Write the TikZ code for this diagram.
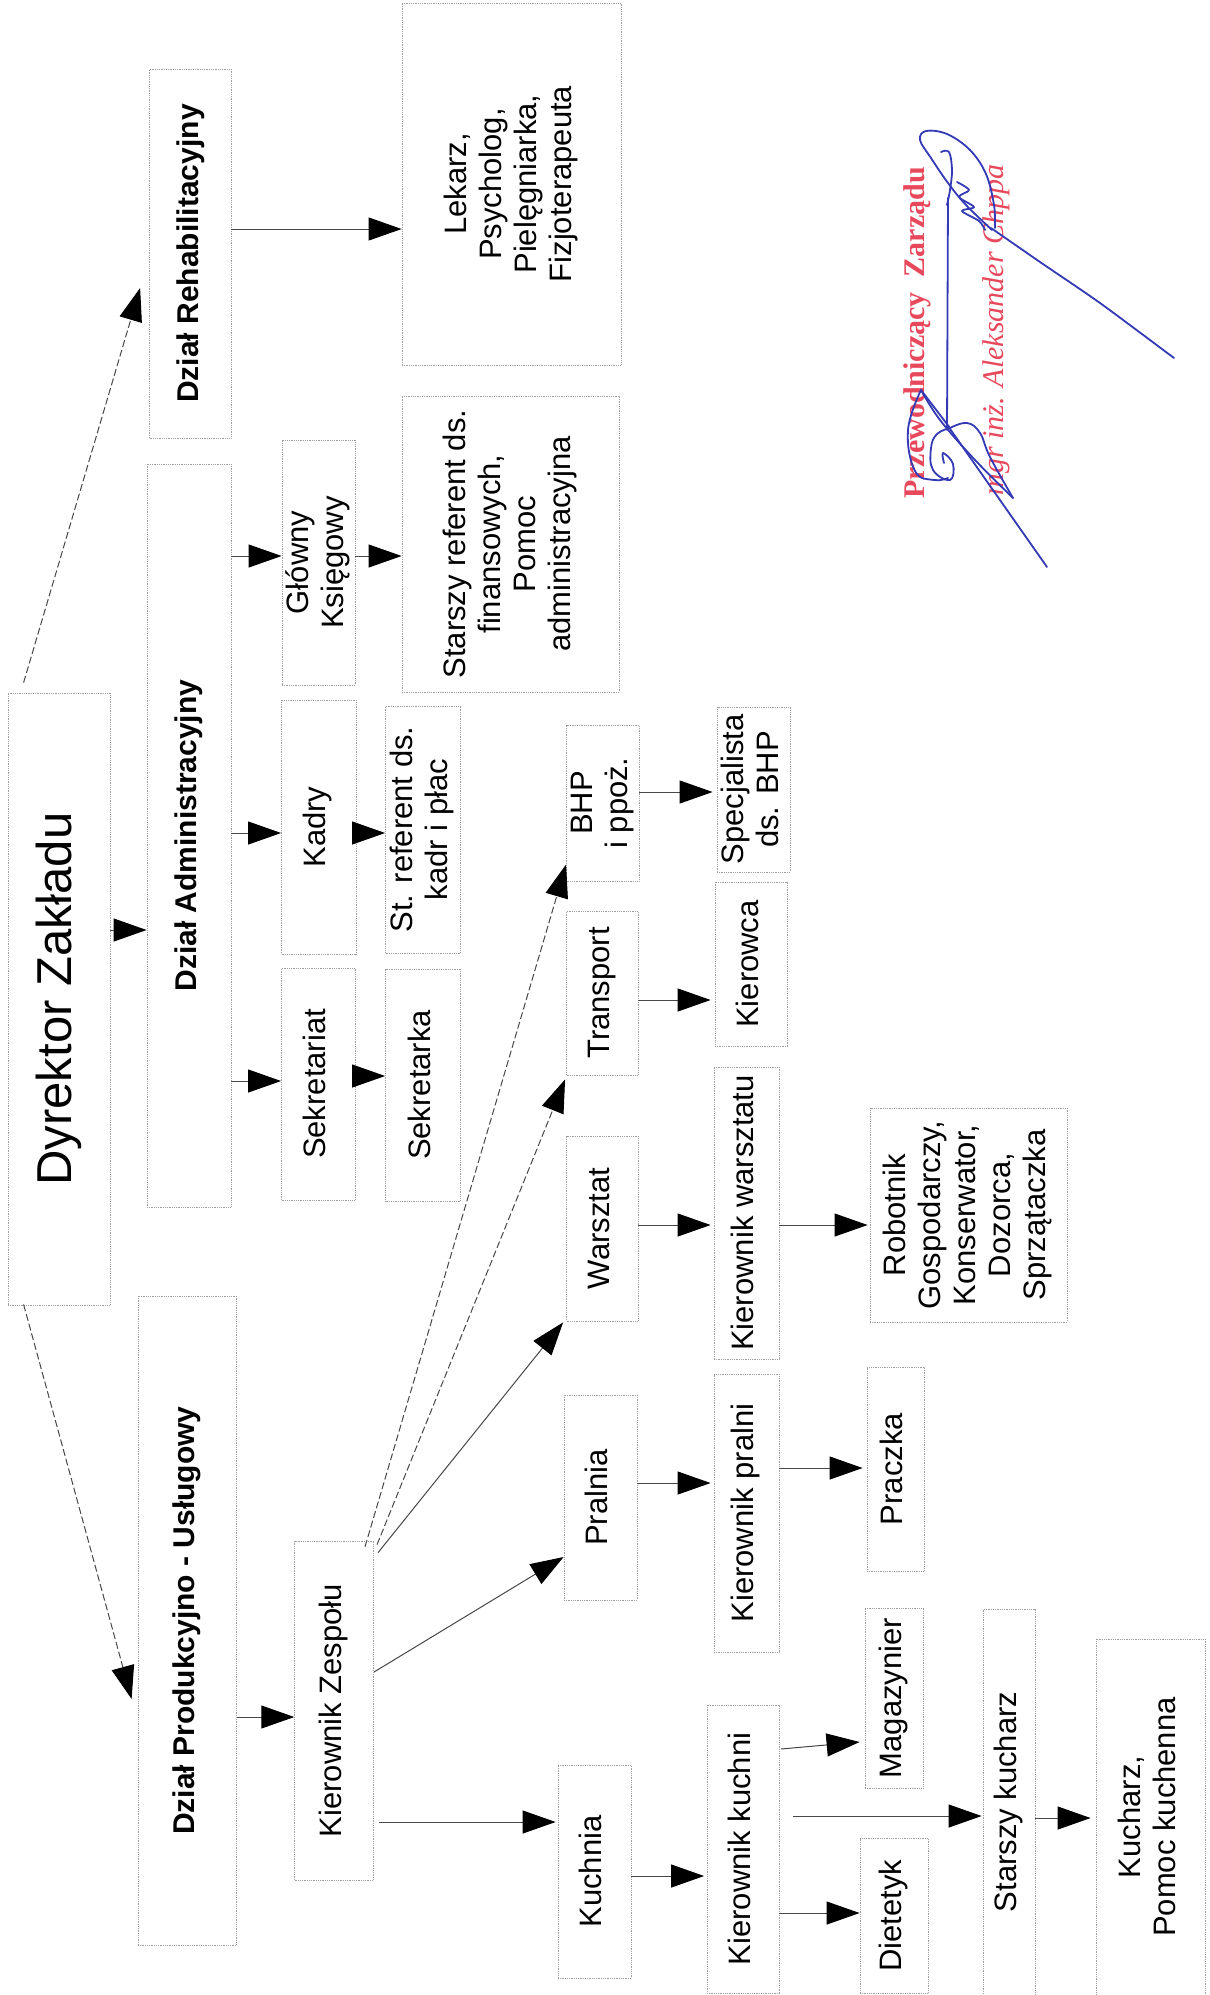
\documentclass[tikz,border=0pt]{standalone}
\usepackage{fontspec}
\setmainfont{Liberation Sans}
\newfontfamily\stampfont{Liberation Serif}
\usepackage{graphicx}
\usetikzlibrary{arrows.meta,calc}
\definecolor{stampred}{RGB}{232,72,92}
\definecolor{inkblue}{RGB}{52,58,182}
\newcommand\rt[2][31]{\rotatebox{90}{\fontsize{#1}{35}\selectfont\begin{tabular}{@{}c@{}}#2\end{tabular}}}
\newcommand\rtb[1]{\rotatebox{90}{\fontsize{30}{35}\selectfont\bfseries #1}}
\tikzset{
  box/.style={draw=black!38, densely dotted, line width=0.8pt, inner sep=0pt, anchor=center, fill=white},
  arr/.style={draw=black!72, line width=1pt, -{Triangle[length=33pt,width=23pt,fill=black,color=black]}},
  darr/.style={arr, dash pattern=on 7pt off 3pt},
  sig/.style={draw=inkblue, line width=1.8pt, line cap=round, line join=round},
  stamp/.style={text=stampred, inner sep=0pt, anchor=center}
}
\begin{document}
\begin{tikzpicture}[x=1pt,y=-1pt]
\useasboundingbox (0,0) rectangle (1210,1995);
\fill[white] (0,0) rectangle (1210,1995);

% ---------- boxes ----------
\node[box, minimum width=102pt, minimum height=612pt] (dyr) at (59,999) {\rt[49]{Dyrektor Zakładu}};
\node[box, minimum width=81.5pt, minimum height=369pt] (rehab) at (190.25,253.5) {\rtb{Dział Rehabilitacyjny}};
\node[box, minimum width=219pt, minimum height=362pt] (lek) at (511.5,184) {\rt{Lekarz,\\Psycholog,\\Pielęgniarka,\\Fizjoterapeuta}};
\node[box, minimum width=84pt, minimum height=743pt] (admin) at (189,835.5) {\rtb{Dział Administracyjny}};
\node[box, minimum width=73pt, minimum height=245pt] (glowny) at (318.5,562.5) {\rt{Główny\\Księgowy}};
\node[box, minimum width=217pt, minimum height=296pt] (stfin) at (510.5,544) {\rt{Starszy referent ds.\\finansowych,\\Pomoc\\administracyjna}};
\node[box, minimum width=74.5pt, minimum height=254pt] (kadry) at (318.75,827) {\rt{Kadry}};
\node[box, minimum width=75pt, minimum height=247pt] (stkadr) at (423,829.5) {\rt{St. referent ds.\\kadr i płac}};
\node[box, minimum width=73.5pt, minimum height=232pt] (sekr) at (318.25,1084) {\rt{Sekretariat}};
\node[box, minimum width=75pt, minimum height=232pt] (sekretarka) at (423,1085) {\rt{Sekretarka}};
\node[box, minimum width=72.5pt, minimum height=156pt] (bhp) at (602.75,803) {\rt{BHP\\i ppoż.}};
\node[box, minimum width=73pt, minimum height=165pt] (spec) at (753.5,789.5) {\rt{Specjalista\\ds. BHP}};
\node[box, minimum width=71.5pt, minimum height=164pt] (transport) at (602.25,993) {\rt{Transport}};
\node[box, minimum width=72pt, minimum height=164pt] (kierowca) at (751,964) {\rt{Kierowca}};
\node[box, minimum width=71.5pt, minimum height=185pt] (warsztat) at (602.25,1228.5) {\rt{Warsztat}};
\node[box, minimum width=65pt, minimum height=292pt] (kwarsz) at (746.5,1213) {\rt{Kierownik warsztatu}};
\node[box, minimum width=197pt, minimum height=214pt] (robot) at (968.5,1215) {\rt{Robotnik\\Gospodarczy,\\Konserwator,\\Dozorca,\\Sprzątaczka}};
\node[box, minimum width=73pt, minimum height=205pt] (pralnia) at (600.5,1497.5) {\rt{Pralnia}};
\node[box, minimum width=65pt, minimum height=278pt] (kpral) at (746.5,1513) {\rt{Kierownik pralni}};
\node[box, minimum width=57pt, minimum height=204pt] (praczka) at (895.5,1469) {\rt{Praczka}};
\node[box, minimum width=73pt, minimum height=213pt] (kuchnia) at (594.5,1871.5) {\rt{Kuchnia}};
\node[box, minimum width=72pt, minimum height=288pt] (kkuch) at (743,1849) {\rt{Kierownik kuchni}};
\node[box, minimum width=58pt, minimum height=180pt] (magaz) at (894,1698) {\rt{Magazynier}};
\node[box, minimum width=68pt, minimum height=155pt] (diet) at (894,1915.5) {\rt{Dietetyk}};
\node[box, minimum width=51.5pt, minimum height=386pt] (stkuch) at (1009.25,1802) {\rt{Starszy kucharz}};
\node[box, minimum width=109pt, minimum height=356pt] (kucharz) at (1150.5,1817) {\rt{Kucharz,\\Pomoc kuchenna}};
\node[box, minimum width=98.5pt, minimum height=649pt] (prod) at (187.25,1620.5) {\rtb{Dział Produkcyjno - Usługowy}};
\node[box, minimum width=79pt, minimum height=339pt] (kz) at (334.15,1710.5) {\rt{Kierownik Zespołu}};

% ---------- connectors ----------
\draw[darr] ($(dyr.north west)+(16,-10)$) -- ($(rehab.west |- 0,288)+(-9,0)$);
\draw[darr] ($(dyr.south west)+(16,-1)$) -- ($(prod.west |- 0,1699)+(-6,0)$);
\draw[arr] (dyr.east |- 0,930) -- (admin.west |- 0,930);

\draw[arr] (rehab.east |- 0,229) -- (lek.west |- 0,229);
\draw[arr] (admin.east |- 0,556) -- (glowny.west |- 0,556);
\draw[arr] (glowny.east |- 0,556) -- (stfin.west |- 0,556);
\draw[arr] (admin.east |- 0,833) -- (kadry.west |- 0,833);
\draw[arr] (kadry.east |- 0,833) -- (stkadr.west |- 0,833);
\draw[arr] (admin.east |- 0,1081) -- (sekr.west |- 0,1081);
\draw[arr] (sekr.east |- 0,1076) -- (sekretarka.west |- 0,1076);

\draw[arr] (prod.east |- 0,1717) -- (kz.west |- 0,1717);
\draw[arr] ($(kz.east |- 0,1822)+(5,0)$) -- ($(kuchnia.west |- 0,1822)+(-2,0)$);
\draw[arr] (kz.east |- 0,1672) -- (pralnia.west |- 0,1557);
\draw[arr] ($(kz.north east)+(4,12)$) -- ($(warsztat.south west)+(-3,1)$);
\draw[darr] ($(kz.north east)+(3,4)$) -- ($(transport.south west)+(-1,4)$);
\draw[darr] ($(kz.north east)+(-9,6)$) -- ($(bhp.south west)+(0,-17)$);

\draw[arr] (bhp.east |- 0,792) -- ($(spec.west |- 0,792)+(-4,0)$);
\draw[arr] (transport.east |- 0,1000) -- ($(kierowca.west |- 0,1000)+(-4,0)$);
\draw[arr] (warsztat.east |- 0,1225) -- ($(kwarsz.west |- 0,1225)+(-3,0)$);
\draw[arr] (kwarsz.east |- 0,1225) -- ($(robot.west |- 0,1225)+(-2,0)$);
\draw[arr] (pralnia.east |- 0,1483) -- ($(kpral.west |- 0,1483)+(-3,0)$);
\draw[arr] (kpral.east |- 0,1468) -- ($(praczka.west |- 0,1468)+(-4,0)$);
\draw[arr] (kuchnia.east |- 0,1876) -- ($(kkuch.west |- 0,1876)+(-2.5,0)$);
\draw[arr] ($(kkuch.east |- 0,1749)+(1.5,0)$) -- ($(magaz.west |- 0,1742)+(-5,0)$);
\draw[arr] ($(kkuch.east |- 0,1816)+(14,0)$) -- ($(stkuch.west |- 0,1816)+(-1.5,0)$);
\draw[arr] (kkuch.east |- 0,1913) -- (diet.west |- 0,1913);
\draw[arr] (stkuch.east |- 0,1818) -- ($(kucharz.west |- 0,1818)+(-5,0)$);

% ---------- stamp ----------
\node[stamp] (stamp1) at (917,333) {\rotatebox{90}{\stampfont\fontsize{30}{34}\selectfont\bfseries Przewodniczący\ \ Zarządu}};
\node[stamp] (stamp2) at (996,330) {\rotatebox{90}{\stampfont\fontsize{30}{34}\selectfont\itshape mgr inż. Aleksander Chppa}};

% ---------- signature ----------
\draw[sig] plot[smooth, tension=0.6] coordinates {(992,230) (966,205) (948,183) (931,158) (920,140) (926,131) (947,134) (970,150) (986,174) (994,205) (995,228)};
\draw[sig] plot[smooth, tension=0.4] coordinates {(991,228) (1040,262) (1100,303) (1174,358)};
\draw[sig] plot[smooth, tension=0.6] coordinates {(941,152) (949,152) (952,170) (950,190) (947,205)};
\draw[sig] (948,198) -- (947,430);
\draw[sig] plot[smooth, tension=0.5] coordinates {(957,182) (969,190) (959,197) (974,207) (962,211) (979,221) (985,230)};
\draw[sig] (921,390) -- (950,428);
\draw[sig] plot[smooth, tension=0.6] coordinates {(921,390) (940,420) (975,460) (1013,498)};
\draw[sig] (948,426) -- (1047,567);
\draw[sig] plot[smooth, tension=0.7] coordinates {(950,428) (937,434) (931,448) (933,470) (950,480) (953,464) (943,453) (944,463)};
\draw[sig] plot[smooth, tension=0.7] coordinates {(950,428) (967,423) (980,433) (990,457) (1013,498)};
\draw[sig] plot[smooth, tension=0.7] coordinates {(921,390) (908,430) (915,471) (934,480) (948,478)};
\end{tikzpicture}
\end{document}
